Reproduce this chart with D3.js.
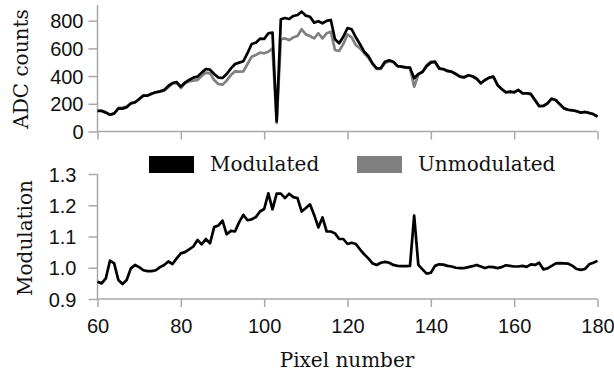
<!DOCTYPE html>
<html>
<head>
<meta charset="utf-8">
<script src="https://cdn.jsdelivr.net/npm/d3@7.9.0/dist/d3.min.js"></script>
<style>
  body { margin: 0; background: #fff; }
  svg { display: block; font-family: "DejaVu Serif", serif; }
  .axis path, .axis line { stroke: #a8a8a8; stroke-width: 1.5; }
  .axis text { fill: #111; font-size: 20px; }
</style>
</head>
<body>
<svg id="chart" width="614" height="375"></svg>
<script>
const pixelStart = 60;
const pixelEnd = 180;

const modulated = [
  148, 148, 136, 121, 131, 165, 165, 175, 203, 211,
  235, 259, 259, 273, 283, 290, 300, 329, 350, 357,
  324, 352, 372, 389, 396, 425, 451, 446, 415, 389,
  386, 415, 454, 487, 497, 507, 565, 632, 641, 670,
  668, 709, 713, 75, 810, 819, 812, 834, 841, 865,
  836, 828, 786, 796, 781, 798, 805, 666, 637, 684,
  747, 738, 680, 630, 576, 545, 492, 456, 458, 504,
  514, 504, 473, 468, 463, 461, 384, 415, 430, 472,
  497, 504, 456, 451, 437, 432, 415, 396, 391, 406,
  399, 381, 348, 372, 389, 396, 336, 307, 283, 288,
  283, 300, 276, 276, 271, 227, 184, 184, 203, 237,
  227, 196, 167, 157, 153, 146, 136, 141, 134, 126,
  107
];

const unmodulated = [
  150, 152, 140, 120, 128, 170, 172, 180, 203, 209,
  233, 259, 260, 274, 283, 287, 295, 320, 345, 350,
  314, 348, 362, 367, 372, 401, 425, 420, 372, 343,
  338, 367, 408, 434, 432, 434, 487, 540, 552, 569,
  565, 575, 600, 62, 666, 672, 660, 680, 689, 738,
  701, 689, 672, 709, 672, 709, 720, 588, 581, 632,
  701, 680, 624, 600, 565, 533, 487, 452, 452, 495,
  506, 500, 470, 466, 461, 458, 323, 410, 432, 480,
  505, 500, 451, 449, 435, 430, 415, 396, 391, 405,
  397, 378, 347, 372, 388, 395, 336, 306, 281, 286,
  282, 299, 274, 275, 268, 225, 181, 185, 203, 236,
  224, 193, 165, 155, 152, 147, 137, 142, 132, 124,
  105
];

const modulation = [
  0.955, 0.950, 0.966, 1.023, 1.014, 0.961, 0.948, 0.961, 0.998, 1.009,
  1.002, 0.992, 0.989, 0.989, 0.992, 1.002, 1.009, 1.020, 1.012, 1.030,
  1.046, 1.050, 1.059, 1.068, 1.089, 1.075, 1.092, 1.078, 1.130, 1.135,
  1.151, 1.107, 1.118, 1.116, 1.146, 1.169, 1.152, 1.155, 1.162, 1.180,
  1.188, 1.238, 1.187, 1.237, 1.237, 1.223, 1.237, 1.226, 1.223, 1.180,
  1.191, 1.203, 1.169, 1.129, 1.161, 1.116, 1.116, 1.110, 1.092, 1.092,
  1.076, 1.080, 1.076, 1.059, 1.043, 1.030, 1.014, 1.009, 1.016, 1.019,
  1.016, 1.009, 1.006, 1.005, 1.005, 1.006, 1.167, 1.009, 0.995, 0.981,
  0.984, 1.006, 1.011, 1.010, 1.006, 1.004, 1.000, 0.999, 0.999, 1.002,
  1.005, 1.009, 1.004, 0.999, 1.003, 1.002, 0.999, 1.002, 1.008, 1.006,
  1.004, 1.004, 1.006, 1.003, 1.011, 1.009, 1.016, 0.995, 0.998, 1.006,
  1.014, 1.015, 1.014, 1.013, 1.006, 0.996, 0.993, 0.996, 1.011, 1.016,
  1.022
];

const xTicks = [60, 80, 100, 120, 140, 160, 180];
const countTicks = [0, 200, 400, 600, 800];
const modTicks = [0.9, 1.0, 1.1, 1.2, 1.3];
const legendItems = [
  { label: "Modulated", color: "#000000" },
  { label: "Unmodulated", color: "#808080" }
];

const pixels = d3.range(pixelStart, pixelEnd + 1);
const svg = d3.select("#chart");

const x = d3.scaleLinear().domain([pixelStart, pixelEnd]).range([97.5, 597.5]);
const yTop = d3.scaleLinear().domain([0, 913]).range([131.5, 5]);
const yBottom = d3.scaleLinear().domain([0.9, 1.3]).range([299, 174]);

// top panel
svg.append("g")
  .attr("class", "axis")
  .attr("transform", "translate(0,131.5)")
  .call(d3.axisBottom(x).tickValues(xTicks).tickSize(8).tickFormat(""))
  .call((g) => g.select(".domain").attr("d", `M${x(pixelStart)},0H${x(pixelEnd)}`));

svg.append("g")
  .attr("class", "axis")
  .attr("transform", "translate(97.5,0)")
  .call(d3.axisLeft(yTop).tickValues(countTicks).tickSize(9).tickPadding(5).tickFormat(d3.format("d")))
  .call((g) => g.select(".domain").attr("d", `M0,${yTop(913)}V${yTop(0)}`))
  .call((g) => g.selectAll("text").attr("dy", "0.36em"));

const topLine = d3.line().x((d, i) => x(pixels[i])).y((d) => yTop(d));

svg.append("path")
  .datum(unmodulated)
  .attr("fill", "none")
  .attr("stroke", "#808080")
  .attr("stroke-width", 2.7)
  .attr("stroke-linejoin", "round")
  .attr("d", topLine);

svg.append("path")
  .datum(modulated)
  .attr("fill", "none")
  .attr("stroke", "#000")
  .attr("stroke-width", 2.7)
  .attr("stroke-linejoin", "round")
  .attr("d", topLine);

svg.append("text")
  .attr("transform", "translate(28,69) rotate(-90)")
  .attr("text-anchor", "middle")
  .attr("font-size", 20)
  .attr("fill", "#111")
  .text("ADC counts");

// bottom panel
svg.append("g")
  .attr("class", "axis")
  .attr("transform", "translate(0,299)")
  .call(d3.axisBottom(x).tickValues(xTicks).tickSize(8).tickPadding(12).tickFormat(d3.format("d")))
  .call((g) => g.select(".domain").attr("d", `M${x(pixelStart)},0H${x(pixelEnd)}`));

svg.append("g")
  .attr("class", "axis")
  .attr("transform", "translate(97.5,0)")
  .call(d3.axisLeft(yBottom).tickValues(modTicks).tickSize(9).tickPadding(12).tickFormat(d3.format(".1f")))
  .call((g) => g.select(".domain").attr("d", `M0,${yBottom(1.3)}V${yBottom(0.9)}`))
  .call((g) => g.selectAll("text").attr("dy", "0.36em"));

const bottomLine = d3.line().x((d, i) => x(pixels[i])).y((d) => yBottom(d));

svg.append("path")
  .datum(modulation)
  .attr("fill", "none")
  .attr("stroke", "#000")
  .attr("stroke-width", 2.7)
  .attr("stroke-linejoin", "round")
  .attr("d", bottomLine);

svg.append("text")
  .attr("transform", "translate(32,238) rotate(-90)")
  .attr("text-anchor", "middle")
  .attr("font-size", 20)
  .attr("fill", "#111")
  .text("Modulation");

svg.append("text")
  .attr("x", 347)
  .attr("y", 367)
  .attr("text-anchor", "middle")
  .attr("font-size", 20)
  .attr("fill", "#111")
  .text("Pixel number");

// legend
const legend = svg.append("g");
const legendX = [149, 357];
legendItems.forEach((item, i) => {
  legend.append("rect")
    .attr("x", legendX[i])
    .attr("y", 156)
    .attr("width", 45)
    .attr("height", 17)
    .attr("fill", item.color);
  legend.append("text")
    .attr("x", legendX[i] + 61)
    .attr("y", 171)
    .attr("font-size", 20)
    .attr("fill", "#111")
    .text(item.label);
});
</script>
</body>
</html>
